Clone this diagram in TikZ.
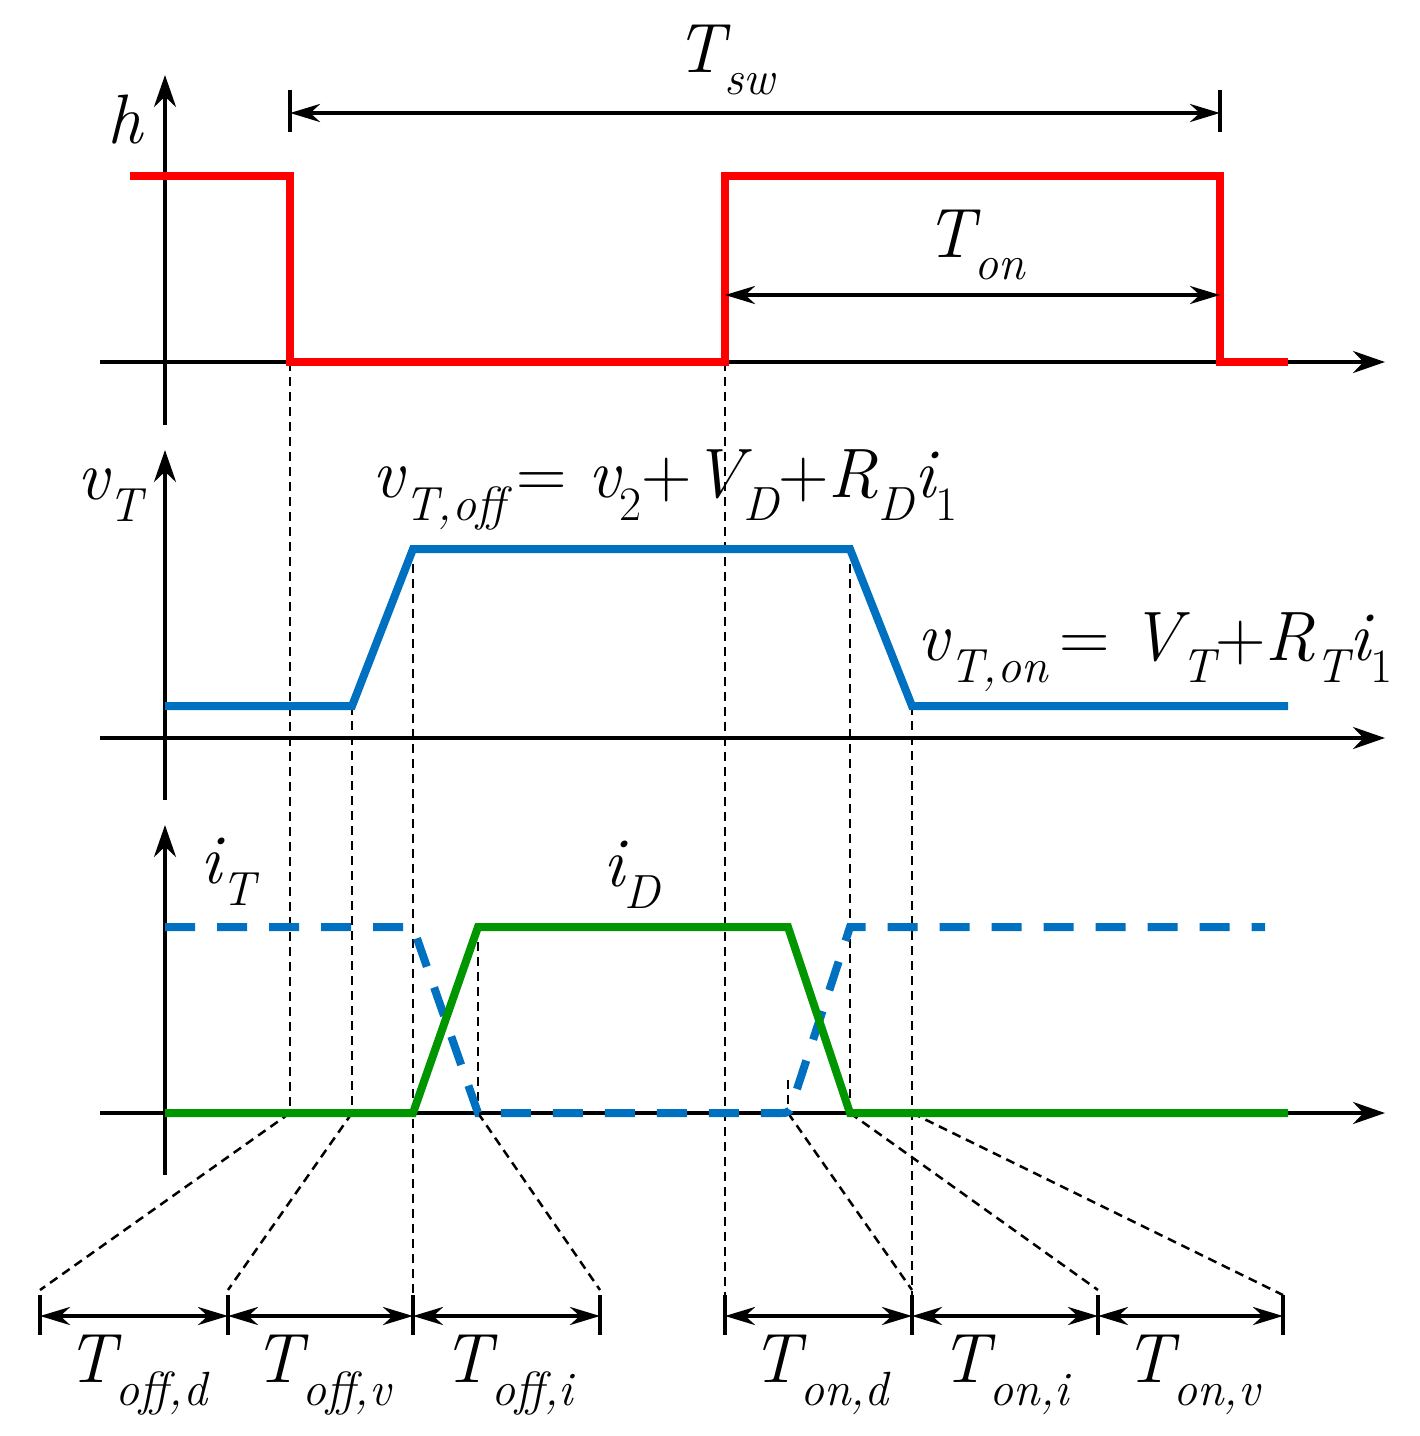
\documentclass[tikz,border=0pt]{standalone}
\usetikzlibrary{arrows.meta}
\definecolor{myred}{RGB}{255,0,0}
\definecolor{myblue}{RGB}{0,112,192}
\definecolor{mygreen}{RGB}{0,150,0}
\newcommand{\Lbl}[2]{{\itshape #1}\raisebox{-0.32em}{\fontsize{48}{48}\selectfont\itshape #2}}
\newcommand{\Lbu}[2]{{\itshape #1}\raisebox{-0.32em}{\fontsize{48}{48}\selectfont #2}}
\tikzset{
 axis/.style={line width=4, -{Stealth[length=32,width=22]}},
 sig/.style={line width=8},
 guide/.style={line width=2.5, dash pattern=on 9 off 6},
 dim/.style={line width=4, {Stealth[length=30,width=18]}-{Stealth[length=30,width=18]}},
 bar/.style={line width=4},
 lab/.style={font=\fontsize{70}{70}\selectfont, inner sep=0},
}
\begin{document}
\begin{tikzpicture}[x=1pt,y=-1pt]
\useasboundingbox (0,0) rectangle (1420,1436);
% axes
\draw[axis] (165,425) -- (165,75);
\draw[axis] (100,362) -- (1385,362);
\draw[axis] (165,800) -- (165,450);
\draw[axis] (100,738) -- (1385,738);
\draw[axis] (165,1175) -- (165,825);
\draw[axis] (100,1113) -- (1385,1113);
% guides
\draw[guide] (290,362) -- (290,1113);
\draw[guide] (352,706) -- (352,1113);
\draw[guide] (413,549) -- (413,1330);
\draw[guide] (725,362) -- (725,1330);
\draw[guide] (850,549) -- (850,1113);
\draw[guide] (912,706) -- (912,1330);
\draw[guide] (478,927) -- (478,1113);
\draw[guide] (788,1080) -- (788,1113);
\draw[guide] (290,1113) -- (40,1290);
\draw[guide] (352,1113) -- (228,1290);
\draw[guide] (478,1113) -- (600,1290);
\draw[guide] (788,1113) -- (912,1290);
\draw[guide] (850,1113) -- (1098,1290);
\draw[guide] (912,1113) -- (1283,1295);
% signals
\draw[sig, myred] (130,176) -- (290,176) -- (290,362) -- (725,362) -- (725,176) -- (1220,176) -- (1220,362) -- (1288,362);
\draw[sig, myblue] (165,706) -- (352,706) -- (413,549) -- (850,549) -- (912,706) -- (1288,706);
\draw[sig, myblue, dash pattern=on 30 off 22] (165,927) -- (413,927) -- (478,1113) -- (780,1113) .. controls (790,1113) .. (795,1095) -- (850,927) -- (1265,927);
\draw[sig, mygreen] (165,1113) -- (413,1113) -- (478,927) -- (788,927) -- (850,1113) -- (1288,1113);
% top dims
\draw[bar] (290,90) -- (290,132);
\draw[bar] (1220,90) -- (1220,132);
\draw[dim] (290,113) -- (1220,113);
\draw[dim] (725,295) -- (1220,295);
\node[lab] at (725,60) {\Lbl{T}{sw}};
\node[lab] at (975,245) {\Lbl{T}{on}};
\node[lab] at (125,120) {\itshape h};
\node[lab] at (110,495) {\Lbl{v}{T}};
\node[lab] at (665,490) {\Lbl{v}{T,off}\,= \Lbu{v}{2}+\Lbl{V}{D}+\Lbl{R}{D}\Lbu{i}{1}};
\node[lab] at (1155,652) {\Lbl{v}{T,on}\,= \Lbl{V}{T}+\Lbl{R}{T}\Lbu{i}{1}};
\node[lab] at (228,872) {\Lbl{i}{T}};
\node[lab] at (632,875) {\Lbl{i}{D}};
% bottom dims
\foreach \x in {40,228,413,600,725,912,1098,1283} \draw[bar] (\x,1295) -- (\x,1335);
\draw[dim] (40,1316) -- (228,1316);
\draw[dim] (228,1316) -- (413,1316);
\draw[dim] (413,1316) -- (600,1316);
\draw[dim] (725,1316) -- (912,1316);
\draw[dim] (912,1316) -- (1098,1316);
\draw[dim] (1098,1316) -- (1283,1316);
\node[lab] at (137,1375) {\Lbl{T}{off,d}};
\node[lab] at (322,1375) {\Lbl{T}{off,v}};
\node[lab] at (508,1375) {\Lbl{T}{off,i}};
\node[lab] at (820,1375) {\Lbl{T}{on,d}};
\node[lab] at (1005,1375) {\Lbl{T}{on,i}};
\node[lab] at (1192,1375) {\Lbl{T}{on,v}};
\end{tikzpicture}
\end{document}
